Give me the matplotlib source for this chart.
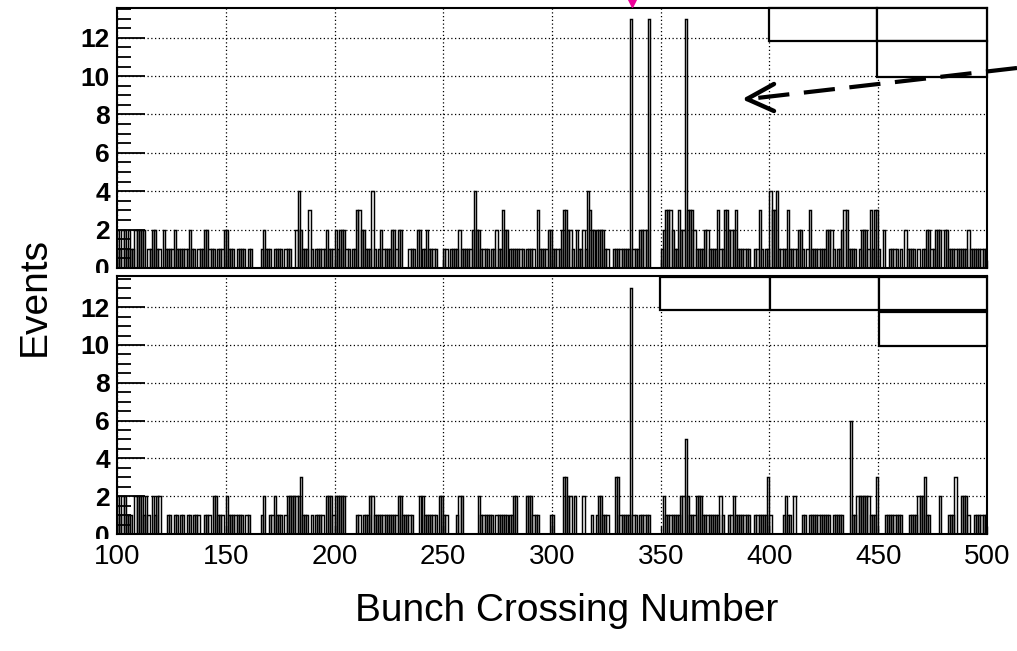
import matplotlib
matplotlib.use("Agg")
import matplotlib.pyplot as plt
import numpy as np
from matplotlib.ticker import MultipleLocator
from matplotlib.transforms import Bbox, TransformedBbox, blended_transform_factory
from matplotlib.patches import Rectangle
from matplotlib.lines import Line2D

# bunch crossing 100..499, one bin per crossing
first_bx = 100
last_bx = 500

top_counts = [
    2, 1, 2, 2, 1, 2, 1, 1, 2, 2,
    2, 2, 2, 0, 1, 1, 2, 2, 1, 1,
    0, 2, 1, 1, 1, 1, 2, 1, 1, 1,
    1, 1, 1, 2, 1, 1, 0, 1, 1, 1,
    2, 2, 1, 1, 1, 0, 1, 1, 1, 2,
    2, 1, 1, 1, 0, 1, 1, 1, 1, 0,
    1, 1, 0, 0, 0, 0, 1, 2, 1, 1,
    1, 0, 1, 1, 1, 1, 0, 1, 1, 1,
    0, 0, 2, 4, 2, 1, 1, 1, 3, 1,
    0, 1, 1, 1, 1, 1, 2, 1, 1, 1,
    2, 1, 2, 2, 2, 1, 1, 0, 1, 1,
    3, 3, 2, 2, 1, 1, 1, 4, 1, 0,
    1, 2, 1, 1, 1, 1, 2, 2, 1, 2,
    2, 0, 0, 0, 1, 1, 1, 0, 2, 2,
    1, 1, 2, 1, 1, 1, 1, 0, 0, 0,
    1, 1, 0, 1, 1, 1, 1, 2, 1, 1,
    1, 1, 1, 2, 4, 2, 2, 1, 1, 1,
    1, 0, 1, 1, 2, 1, 1, 3, 2, 2,
    1, 1, 1, 1, 1, 1, 1, 0, 1, 1,
    1, 1, 0, 3, 1, 1, 1, 1, 2, 2,
    1, 1, 1, 1, 2, 3, 3, 2, 2, 1,
    0, 2, 1, 1, 2, 1, 4, 3, 2, 2,
    2, 2, 2, 2, 1, 1, 0, 0, 1, 1,
    1, 1, 1, 1, 1, 1, 13, 1, 1, 1,
    2, 2, 2, 2, 13, 0, 0, 0, 0, 0,
    1, 2, 3, 3, 3, 2, 1, 1, 3, 2,
    2, 13, 3, 3, 3, 2, 1, 1, 1, 1,
    2, 2, 1, 1, 1, 1, 3, 1, 1, 3,
    3, 2, 2, 2, 3, 1, 1, 1, 1, 1,
    1, 0, 0, 1, 1, 3, 1, 0, 1, 1,
    4, 3, 3, 4, 1, 1, 1, 1, 3, 1,
    1, 1, 1, 2, 2, 1, 0, 1, 3, 1,
    1, 1, 1, 1, 1, 1, 2, 2, 2, 1,
    0, 1, 1, 2, 3, 3, 1, 1, 1, 1,
    0, 1, 2, 2, 2, 1, 3, 1, 3, 3,
    1, 0, 2, 0, 0, 1, 1, 1, 1, 0,
    1, 0, 2, 1, 1, 1, 1, 0, 1, 0,
    1, 1, 2, 2, 1, 1, 2, 2, 2, 0,
    2, 2, 1, 1, 1, 1, 1, 1, 1, 1,
    1, 2, 1, 1, 1, 1, 1, 1, 1, 1,
]

bottom_counts = [
    2, 1, 2, 2, 1, 1, 1, 0, 2, 2,
    2, 2, 1, 2, 1, 0, 2, 1, 2, 2,
    0, 0, 0, 1, 1, 0, 1, 1, 0, 1,
    1, 0, 1, 1, 0, 1, 1, 1, 0, 0,
    1, 1, 1, 0, 2, 2, 1, 1, 1, 0,
    2, 1, 1, 1, 1, 1, 1, 1, 0, 1,
    1, 0, 0, 0, 0, 0, 1, 2, 0, 0,
    1, 1, 2, 1, 1, 1, 0, 1, 2, 2,
    2, 2, 2, 2, 3, 1, 1, 1, 0, 1,
    0, 1, 1, 1, 1, 0, 2, 2, 2, 1,
    2, 2, 2, 2, 2, 0, 0, 0, 0, 0,
    1, 1, 0, 1, 1, 1, 2, 2, 1, 1,
    1, 1, 1, 1, 1, 1, 1, 1, 1, 2,
    2, 1, 1, 1, 1, 1, 0, 0, 0, 2,
    2, 1, 1, 1, 1, 1, 1, 0, 2, 2,
    1, 1, 0, 0, 0, 0, 1, 2, 2, 0,
    0, 0, 0, 0, 0, 0, 2, 1, 1, 1,
    1, 1, 1, 0, 1, 1, 1, 1, 1, 1,
    1, 1, 2, 2, 0, 0, 0, 0, 2, 2,
    2, 1, 1, 1, 0, 0, 0, 0, 0, 1,
    1, 0, 0, 0, 0, 3, 3, 2, 2, 0,
    2, 0, 0, 0, 2, 0, 0, 0, 1, 0,
    1, 2, 2, 1, 1, 1, 0, 0, 0, 3,
    3, 1, 1, 1, 1, 1, 13, 1, 1, 0,
    1, 1, 1, 1, 1, 0, 0, 0, 0, 0,
    0, 2, 1, 1, 1, 1, 1, 1, 1, 2,
    2, 5, 2, 1, 1, 1, 2, 2, 2, 1,
    1, 1, 1, 1, 1, 1, 1, 2, 1, 0,
    0, 1, 1, 2, 1, 1, 1, 1, 1, 1,
    1, 0, 0, 1, 1, 1, 1, 1, 1, 3,
    1, 0, 0, 0, 0, 0, 1, 2, 1, 1,
    0, 2, 0, 0, 0, 1, 1, 0, 1, 1,
    1, 1, 1, 1, 1, 1, 1, 1, 0, 1,
    1, 1, 1, 1, 0, 0, 0, 6, 1, 1,
    2, 2, 2, 2, 2, 2, 1, 1, 1, 3,
    0, 0, 0, 1, 1, 1, 1, 1, 1, 1,
    1, 0, 0, 0, 1, 1, 1, 1, 2, 2,
    2, 3, 1, 1, 0, 0, 0, 0, 2, 0,
    0, 0, 1, 1, 1, 3, 0, 0, 2, 2,
    2, 1, 0, 0, 1, 1, 1, 1, 1, 1,
]

y_major = [0, 2, 4, 6, 8, 10, 12]
x_major = [100, 150, 200, 250, 300, 350, 400, 450, 500]
marker_bx = 336.7

plt.rcParams['font.family'] = ['Liberation Sans', 'DejaVu Sans']

W, H = 1017, 651
fig = plt.figure(figsize=(W / 100, H / 100), dpi=100)


def pix_rect(left, top, right, bottom):
    # pixel box (origin top-left) -> figure fraction rect
    return [left / W, 1 - bottom / H, (right - left) / W, (bottom - top) / H]


def draw_panel(ax, counts, ymax, clip_below_px, show_xlabels):
    bins = np.arange(first_bx, first_bx + len(counts))
    ax.bar(bins, counts, width=1, align='edge', facecolor='none',
           edgecolor='black', linewidth=1.05, zorder=3)
    ax.set_xlim(first_bx, last_bx)
    ax.set_ylim(0, ymax)
    ax.set_yticks(y_major)
    ax.yaxis.set_minor_locator(MultipleLocator(0.5))
    ax.set_xticks(x_major)
    ax.grid(True, color='black', linewidth=0.9, linestyle=(0, (1, 2)), zorder=1)
    ax.tick_params(axis='y', which='major', direction='in', length=20,
                   width=1.3, labelsize=19, pad=5)
    ax.tick_params(axis='y', which='minor', direction='in', length=10, width=1.3)
    ax.tick_params(axis='x', which='major', direction='in', length=6, width=1.0,
                   labelsize=20, pad=7, labelbottom=show_xlabels)
    for lbl in ax.get_yticklabels():
        lbl.set_fontweight('bold')
    for sp in ax.spines.values():
        sp.set_linewidth(1.5)
    # the "0" label is cut by the pad below it
    clip = TransformedBbox(Bbox.from_extents(0, 1 - clip_below_px / H, 1, 1),
                           fig.transFigure)
    zero = ax.yaxis.get_major_ticks()[0].label1
    zero.set_clip_box(clip)
    zero.set_clip_on(True)


ax_top = fig.add_axes(pix_rect(117, 8, 987, 268))
ax_bot = fig.add_axes(pix_rect(117, 276, 987, 534))
draw_panel(ax_top, top_counts, 13.55, 273, False)
draw_panel(ax_bot, bottom_counts, 13.65, 539, True)

# empty stat / legend boxes
boxes = [
    (769, 8, 877, 41), (877, 8, 987, 41), (877, 41, 987, 77),
    (660, 277, 770, 310), (770, 277, 879, 310), (879, 277, 987, 310),
    (879, 312, 987, 346),
]
for (l, t, r, b) in boxes:
    fig.add_artist(Rectangle((l / W, 1 - b / H), (r - l) / W, (b - t) / H,
                             transform=fig.transFigure, facecolor='white',
                             edgecolor='black', linewidth=1.6, zorder=5))

# dashed pointer arrow
tip = (747 / W, 1 - 99 / H)
fig.add_artist(Line2D([1017 / W, 757 / W], [1 - 68 / H, 1 - 98 / H],
                      transform=fig.transFigure, color='black', linewidth=3,
                      dashes=(7.5, 3.5), zorder=6))
for hx, hy in [(774, 84), (774, 111)]:
    fig.add_artist(Line2D([tip[0], hx / W], [tip[1], 1 - hy / H],
                          transform=fig.transFigure, color='black',
                          linewidth=3.2, solid_capstyle='round', zorder=6))

# magenta marker above the first peak
trans = blended_transform_factory(ax_top.transData, ax_top.transAxes)
ax_top.plot([marker_bx], [1.018], marker='v', color='#ee0099', markersize=6,
            transform=trans, clip_on=False, zorder=7)

fig.text(35 / W, 1 - 297 / H, 'Events', rotation=90, fontsize=28,
         ha='center', va='center')
fig.text(567 / W, 1 - 611 / H, 'Bunch Crossing Number', fontsize=28,
         ha='center', va='center')

fig.savefig('out.png', dpi=100)
